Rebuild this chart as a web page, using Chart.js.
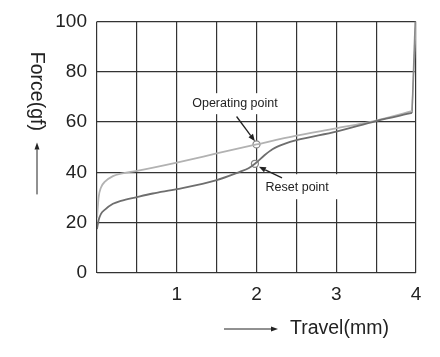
<!DOCTYPE html>
<html>
<head>
<meta charset="utf-8">
<script src="https://cdn.jsdelivr.net/npm/chart.js@4.4.1/dist/chart.umd.min.js"></script>
<style>
html,body{margin:0;padding:0;background:#fff;}
canvas{display:block;}
</style>
</head>
<body>
<canvas id="c" width="440" height="357"></canvas>
<script>
// Operating (press) curve
const opTravel = [0, 0.02, 0.05, 0.1, 0.2, 0.3, 0.5, 1.0, 1.5, 2.0, 2.5, 3.0, 3.5, 3.95];
const opForce  = [22, 30, 34, 36.3, 38.5, 39.5, 40.6, 43.9, 47.5, 51.1, 54.6, 57.5, 60.6, 64.3];
// Reset (release) curve
const rsTravel = [0, 0.02, 0.05, 0.1, 0.2, 0.3, 0.5, 0.7, 1.0, 1.5, 1.79, 1.9, 1.98, 2.1, 2.2, 2.35, 2.5, 3.0, 3.5, 3.95];
const rsForce  = [17.5, 21, 23.5, 25.2, 27.5, 28.7, 30.2, 31.6, 33.3, 36.9, 40.2, 41.6, 43.4, 46.8, 49.2, 51.3, 52.8, 56.2, 60.4, 63.6];
// Bottoming-out rise at the end of travel
const endOpTravel = [3.95, 4.0];
const endOpForce  = [64.3, 100];
const endRsTravel = [3.95, 3.99];
const endRsForce  = [63.6, 100];
// Marked points
const operatingPoint = {x: 2.0, y: 51.1};
const resetPoint = {x: 1.98, y: 43.4};
// Axis ticks
const xTickLabels = ['', '1', '2', '3', '4'];
const yTicks = [0, 20, 40, 60, 80, 100];

const toXY = (xs, ys) => xs.map((x, i) => ({x: x, y: ys[i]}));

const FONT = '"Liberation Sans", Arial, Helvetica, sans-serif';

function arrow(ctx, x1, y1, x2, y2, head, w) {
  ctx.beginPath();
  ctx.moveTo(x1, y1);
  const ang = Math.atan2(y2 - y1, x2 - x1);
  const bx = x2 - head * Math.cos(ang), by = y2 - head * Math.sin(ang);
  ctx.lineTo(bx, by);
  ctx.stroke();
  ctx.beginPath();
  ctx.moveTo(x2, y2);
  ctx.lineTo(bx + w * Math.sin(ang), by - w * Math.cos(ang));
  ctx.lineTo(bx - w * Math.sin(ang), by + w * Math.cos(ang));
  ctx.closePath();
  ctx.fill();
}

const decor = {
  id: 'decor',
  afterDraw(chart) {
    const ctx = chart.ctx;
    const xs = chart.scales.x, ys = chart.scales.y;
    const ca = chart.chartArea;
    const px = v => xs.getPixelForValue(v);
    const py = v => ys.getPixelForValue(v);
    ctx.save();
    ctx.fillStyle = '#222';
    ctx.strokeStyle = '#222';
    ctx.lineWidth = 1.3;

    // Operating point label
    ctx.font = '12.5px ' + FONT;
    ctx.textAlign = 'center';
    ctx.textBaseline = 'middle';
    let lx = px(1.73), ly = py(67.5);
    ctx.fillStyle = '#fff';
    ctx.fillRect(lx - 46, ly - 10, 92, 21);
    ctx.fillStyle = '#222';
    ctx.fillText('Operating point', lx, ly);
    arrow(ctx, px(1.75), py(62.2), px(1.98), py(52.4), 7, 2.8);

    // Reset point label
    lx = px(2.51); ly = py(34.1);
    ctx.fillStyle = '#fff';
    ctx.fillRect(lx - 35, ly - 13, 78, 25);
    ctx.fillStyle = '#222';
    ctx.fillText('Reset point', lx, ly);
    arrow(ctx, px(2.32), py(37.8), px(2.03), py(42.2), 7, 2.8);

    // Y title (rotated clockwise) with up arrow
    ctx.font = '19.5px ' + FONT;
    ctx.save();
    ctx.translate(ca.left - 61, ca.top + 70);
    ctx.rotate(Math.PI / 2);
    ctx.textAlign = 'center';
    ctx.textBaseline = 'middle';
    ctx.fillText('Force(gf)', 0, 0);
    ctx.restore();
    ctx.lineWidth = 1;
    arrow(ctx, ca.left - 60, ca.top + 173, ca.left - 60, ca.top + 121, 7, 2.5);

    // X title with right arrow
    ctx.textAlign = 'left';
    ctx.textBaseline = 'middle';
    ctx.fillText('Travel(mm)', ca.left + 193, ca.bottom + 56);
    arrow(ctx, ca.left + 127, ca.bottom + 56, ca.left + 181, ca.bottom + 56, 7, 2.5);
    ctx.restore();
  }
};

const curve = (xs, ys, color) => ({
  data: toXY(xs, ys),
  borderColor: color,
  borderWidth: 1.8,
  pointRadius: 0,
  cubicInterpolationMode: 'monotone',
  fill: false
});
const straight = (xs, ys, color) => ({
  data: toXY(xs, ys),
  borderColor: color,
  borderWidth: 1.5,
  pointRadius: 0,
  tension: 0,
  fill: false
});

new Chart(document.getElementById('c'), {
  type: 'line',
  data: {
    datasets: [
      curve(rsTravel, rsForce, '#6e6e6e'),
      curve(opTravel, opForce, '#b2b2b2'),
      straight(endRsTravel, endRsForce, '#8a8a8a'),
      straight(endOpTravel, endOpForce, '#b2b2b2'),
      {
        data: [operatingPoint, resetPoint],
        showLine: false,
        pointRadius: 3.5,
        pointBackgroundColor: '#fff',
        pointBorderColor: '#888',
        pointBorderWidth: 1.3
      }
    ]
  },
  options: {
    responsive: false,
    devicePixelRatio: 1,
    animation: false,
    layout: {padding: {top: 20, right: 24, bottom: 0, left: 0}},
    plugins: {legend: {display: false}, tooltip: {enabled: false}},
    scales: {
      x: {
        type: 'linear',
        min: 0, max: 4,
        afterFit: s => { s.height = 84; },
        grid: {color: '#333', lineWidth: 1.2, drawTicks: false},
        border: {display: false},
        ticks: {
          stepSize: 0.5,
          autoSkip: false,
          maxRotation: 0,
          padding: 10,
          color: '#222',
          font: {family: FONT, size: 19},
          callback: v => (v > 0 && Number.isInteger(v)) ? xTickLabels[v] : ''
        }
      },
      y: {
        type: 'linear',
        min: 0, max: 100,
        afterFit: s => { s.width = 97; },
        afterBuildTicks: s => { s.ticks = yTicks.map(v => ({value: v})); },
        grid: {color: '#333', lineWidth: 1.2, drawTicks: false},
        border: {display: false},
        ticks: {
          padding: 10,
          color: '#222',
          font: {family: FONT, size: 19}
        }
      }
    }
  },
  plugins: [decor]
});
</script>
</body>
</html>
